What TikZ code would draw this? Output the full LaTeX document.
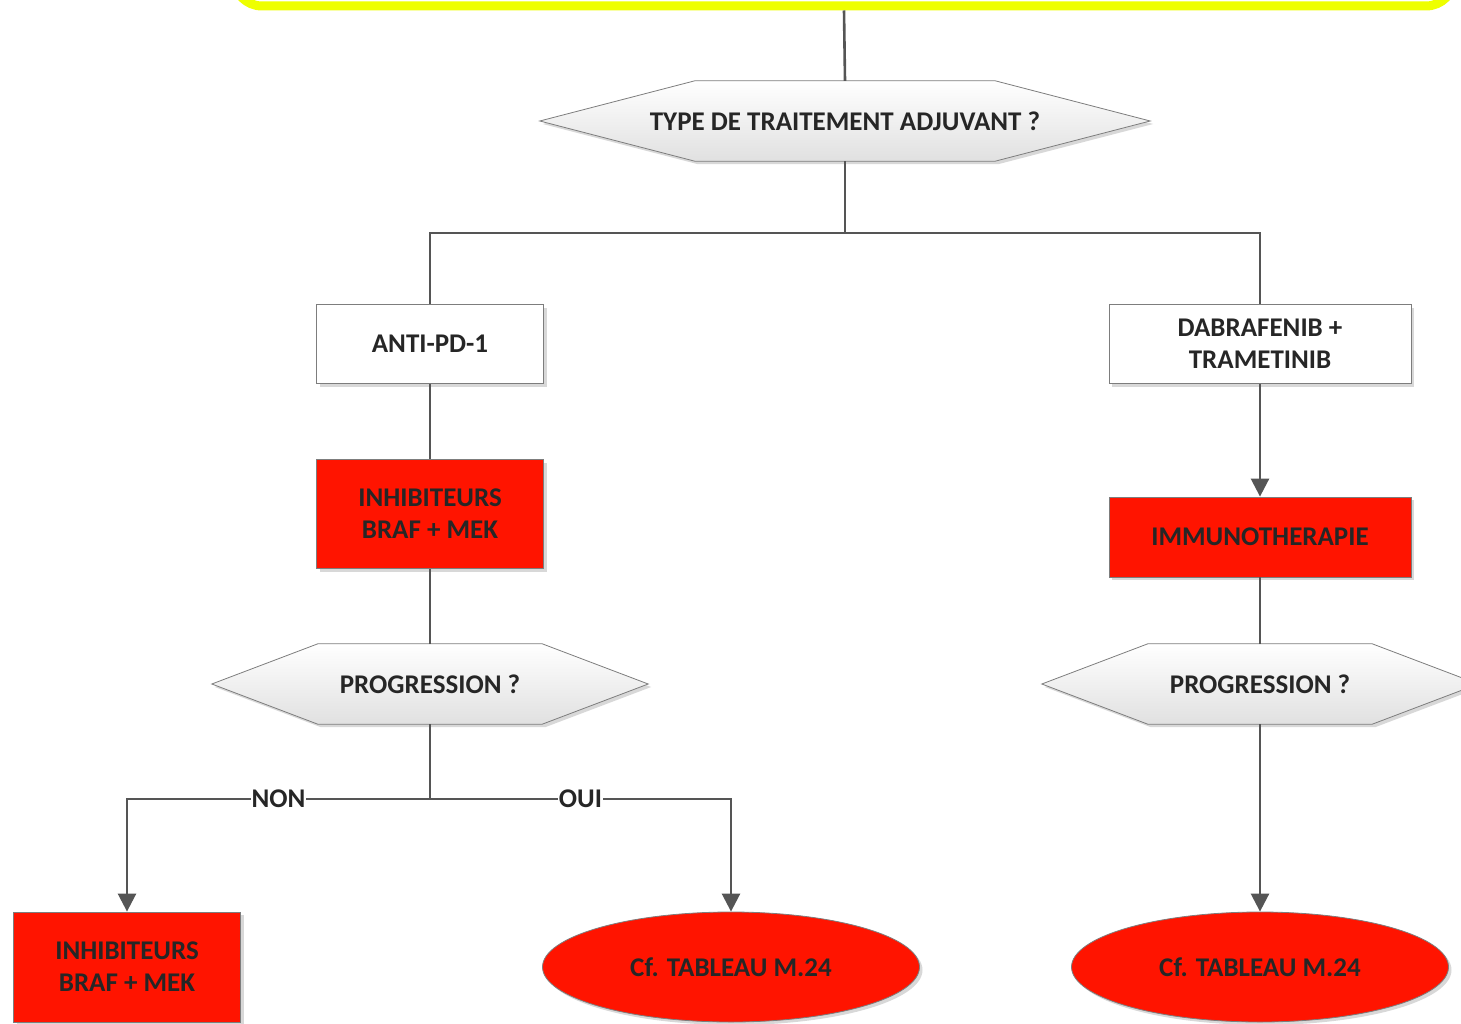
\documentclass[tikz,border=0pt]{standalone}
\usepackage{fontspec}
\setmainfont{Carlito}
\usetikzlibrary{arrows.meta,shapes.geometric,shadows,positioning,calc,backgrounds}
\definecolor{boxred}{RGB}{255,20,0}
\definecolor{linegray}{RGB}{85,85,85}
\definecolor{framegray}{RGB}{125,125,125}
\definecolor{flashyellow}{RGB}{238,255,0}

% hexagonal frame round a question node: #1 node, #2 length of the points
\newcommand{\hexframe}[2]{%
  \path[hexagon] ($(#1.north west)+(#2,0)$) -- ($(#1.north east)+(-#2,0)$) -- (#1.east)
    -- ($(#1.south east)+(-#2,0)$) -- ($(#1.south west)+(#2,0)$) -- (#1.west) -- cycle;}

\begin{document}
\begin{tikzpicture}[x=1pt, y=-1pt,
    every node/.style={font=\bfseries\fontsize{27}{32}\selectfont, text=black!85, align=center},
    shadowed/.style={drop shadow={shadow xshift=3pt, shadow yshift=-3pt, fill=black!30, opacity=0.5}},
    whitebox/.style={draw=framegray, fill=white, line width=0.8pt, minimum height=79pt, shadowed},
    redbox/.style={whitebox, fill=boxred},
    question/.style={minimum height=80pt, inner sep=0pt},
    hexagon/.style={draw=framegray, line width=0.8pt, top color=white, bottom color=black!12, shadowed},
    endpoint/.style={ellipse, draw=framegray, line width=0.8pt, fill=boxred,
        minimum width=377pt, minimum height=110pt, shadowed},
    link/.style={draw=linegray, line width=2.6pt},
    arrow/.style={link, -{Triangle[width=18pt,length=18pt]}},
    tag/.style={fill=white, inner sep=1pt}]
    \useasboundingbox (0,0) rectangle (1461,1024);

    % header (only its lower edge shows)
    \node[draw=flashyellow, line width=9pt, rounded corners=28pt, fill=white,
        minimum width=1220pt, minimum height=100pt, shadowed] (header) at (844,-44) {};

    % first question
    \node[question, minimum width=610pt] (kind) at (845,121) {TYPE DE TRAITEMENT ADJUVANT ?};
    \coordinate (split) at (845,233);

    % left branch
    \node[whitebox, minimum width=227pt] (antipd) at (430,344) {ANTI-PD-1};
    \node[redbox, minimum width=227pt, minimum height=109pt] (inhibA) at (430,514) {INHIBITEURS\\BRAF + MEK};
    \node[question, minimum width=436pt] (progA) at (430,684) {PROGRESSION ?};
    \coordinate (fork) at (430,799);
    \node[redbox, minimum width=227pt, minimum height=110pt] (inhibB) at (127,967) {INHIBITEURS\\BRAF + MEK};
    \node[endpoint] (tabA) at (731,967) {Cf. TABLEAU M.24};

    % right branch
    \node[whitebox, minimum width=302pt] (dabtram) at (1260,344) {DABRAFENIB +\\TRAMETINIB};
    \node[redbox, minimum width=302pt, minimum height=80pt] (immuno) at (1260,537) {IMMUNOTHERAPIE};
    \node[question, minimum width=436pt] (progB) at (1260,684) {PROGRESSION ?};
    \node[endpoint] (tabB) at (1260,967) {Cf. TABLEAU M.24};

    % hexagons behind the questions
    \begin{scope}[on background layer]
        \hexframe{kind}{155}
        \hexframe{progA}{106}
        \hexframe{progB}{106}
    \end{scope}

    % connectors
    \draw[link] (header.south) -- (kind.north);
    \draw[link] (kind.south) -- (split) -| (antipd.north);
    \draw[link] (split) -| (dabtram.north);
    \draw[link] (antipd) -- (inhibA);
    \draw[link] (inhibA) -- (progA);
    \draw[link] (progA.south) -- (fork);
    \draw[arrow] (fork) -| node[tag, pos=0.25] {NON} (inhibB.north);
    \draw[arrow] (fork) -| node[tag, pos=0.25] {OUI} (tabA.north);
    \draw[arrow] (dabtram) -- (immuno);
    \draw[link] (immuno) -- (progB);
    \draw[arrow] (progB) -- (tabB);
\end{tikzpicture}
\end{document}
